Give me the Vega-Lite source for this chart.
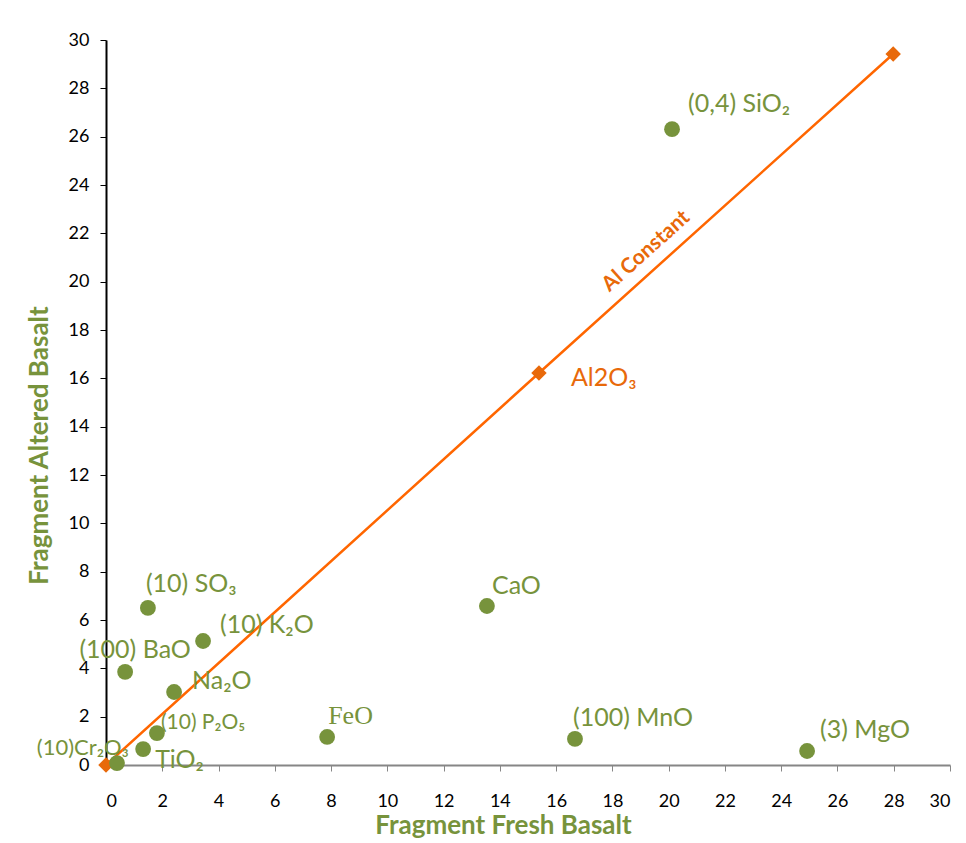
{
  "$schema": "https://vega.github.io/schema/vega-lite/v6.json",
  "autosize": {"type": "none"},
  "width": 844,
  "height": 725,
  "padding": {"left": 106, "top": 40, "right": 16, "bottom": 78},
  "background": "white",
  "config": {
    "view": {"stroke": null},
    "text": {"font": "Lato", "fontSize": 25, "color": "#77933C", "baseline": "middle", "align": "left"}
  },
  "datasets": {
    "oxides": [
      {"name": "SiO2", "label": "(0,4) SiO₂", "fresh": 20.12, "altered": 26.31},
      {"name": "CaO", "label": "CaO", "fresh": 13.54, "altered": 6.58},
      {"name": "SO3", "label": "(10) SO₃", "fresh": 1.49, "altered": 6.5},
      {"name": "K2O", "label": "(10) K₂O", "fresh": 3.45, "altered": 5.13},
      {"name": "BaO", "label": "(100) BaO", "fresh": 0.68, "altered": 3.85},
      {"name": "Na2O", "label": "Na₂O", "fresh": 2.42, "altered": 3.02},
      {"name": "P2O5", "label": "(10) P₂O₅", "fresh": 1.81, "altered": 1.32},
      {"name": "TiO2", "label": "TiO₂", "fresh": 1.32, "altered": 0.66},
      {"name": "Cr2O3", "label": "(10)Cr₂O₃", "fresh": 0.39, "altered": 0.08},
      {"name": "FeO", "label": "FeO", "fresh": 7.86, "altered": 1.16},
      {"name": "MnO", "label": "(100) MnO", "fresh": 16.67, "altered": 1.08},
      {"name": "MgO", "label": "(3) MgO", "fresh": 24.92, "altered": 0.58}
    ],
    "al": [
      {"name": "origin", "label": "", "fresh": 0, "altered": 0},
      {"name": "Al2O3", "label": "Al2O₃", "fresh": 15.39, "altered": 16.22},
      {"name": "end", "label": "", "fresh": 27.98, "altered": 29.42}
    ],
    "note": [
      {"label": "Al Constant", "fresh": 19.2, "altered": 21.25}
    ]
  },
  "encoding": {
    "x": {
      "field": "fresh", "type": "quantitative",
      "scale": {"domain": [0, 30], "nice": false, "zero": false},
      "axis": {
        "title": "Fragment Fresh Basalt",
        "values": [0,2,4,6,8,10,12,14,16,18,20,22,24,26,28,30],
        "grid": false,
        "domainColor": "#868686", "domainWidth": 2,
        "tickColor": "#868686", "tickSize": 6, "tickWidth": 1,
        "labelFont": "Lato", "labelFontSize": 18, "labelColor": "#000000", "labelPadding": 21,
        "titleFont": "Lato", "titleFontSize": 26, "titleFontWeight": "bold", "titleColor": "#77933C", "titlePadding": 2,
        "titleX": 397, "titleAlign": "center", "titleAnchor": "start"
      }
    },
    "y": {
      "field": "altered", "type": "quantitative",
      "scale": {"domain": [0, 30], "nice": false, "zero": false},
      "axis": {
        "title": "Fragment Altered Basalt",
        "values": [0,2,4,6,8,10,12,14,16,18,20,22,24,26,28,30],
        "grid": false,
        "domainColor": "#000000", "domainWidth": 2,
        "tickColor": "#000000", "tickSize": 6, "tickWidth": 1,
        "labelFont": "Lato", "labelFontSize": 18, "labelColor": "#000000", "labelPadding": 11,
        "titleFont": "Lato", "titleFontSize": 26, "titleFontWeight": "bold", "titleColor": "#77933C", "titlePadding": 16,
        "titleY": 405, "titleAlign": "center", "titleAnchor": "start"
      }
    }
  },
  "layer": [
    {"data": {"name": "al"}, "mark": {"type": "line", "color": "#FF6600", "strokeWidth": 2.5}},
    {"data": {"name": "al"}, "mark": {"type": "point", "shape": "diamond", "filled": true, "color": "#E8690A", "size": 240, "opacity": 1}},
    {"data": {"name": "oxides"}, "mark": {"type": "circle", "color": "#77933C", "size": 250, "opacity": 1}},
    {"data": {"name": "al"}, "transform": [{"filter": "datum.name == 'Al2O3'"}], "mark": {"type": "text", "color": "#E8690A", "dx": 32, "dy": 5}, "encoding": {"text": {"field": "label"}}},
    {"data": {"name": "note"}, "mark": {"type": "text", "color": "#E8690A", "fontWeight": "bold", "fontSize": 21, "align": "center", "angle": -42}, "encoding": {"text": {"field": "label"}}},
    {"data": {"name": "oxides"}, "transform": [{"filter": "datum.name == 'SiO2'"}], "mark": {"type": "text", "dx": 16, "dy": -25}, "encoding": {"text": {"field": "label"}}},
    {"data": {"name": "oxides"}, "transform": [{"filter": "datum.name == 'CaO'"}], "mark": {"type": "text", "dx": 5, "dy": -20}, "encoding": {"text": {"field": "label"}}},
    {"data": {"name": "oxides"}, "transform": [{"filter": "datum.name == 'SO3'"}], "mark": {"type": "text", "dx": -2, "dy": -24}, "encoding": {"text": {"field": "label"}}},
    {"data": {"name": "oxides"}, "transform": [{"filter": "datum.name == 'K2O'"}], "mark": {"type": "text", "dx": 17, "dy": -16}, "encoding": {"text": {"field": "label"}}},
    {"data": {"name": "oxides"}, "transform": [{"filter": "datum.name == 'BaO'"}], "mark": {"type": "text", "align": "center", "dx": 10, "dy": -22}, "encoding": {"text": {"field": "label"}}},
    {"data": {"name": "oxides"}, "transform": [{"filter": "datum.name == 'Na2O'"}], "mark": {"type": "text", "dx": 18, "dy": -11}, "encoding": {"text": {"field": "label"}}},
    {"data": {"name": "oxides"}, "transform": [{"filter": "datum.name == 'P2O5'"}], "mark": {"type": "text", "fontSize": 21, "dx": 4, "dy": -10}, "encoding": {"text": {"field": "label"}}},
    {"data": {"name": "oxides"}, "transform": [{"filter": "datum.name == 'TiO2'"}], "mark": {"type": "text", "dx": 12, "dy": 11}, "encoding": {"text": {"field": "label"}}},
    {"data": {"name": "oxides"}, "transform": [{"filter": "datum.name == 'Cr2O3'"}], "mark": {"type": "text", "fontSize": 22, "align": "right", "dx": 12, "dy": -15}, "encoding": {"text": {"field": "label"}}},
    {"data": {"name": "oxides"}, "transform": [{"filter": "datum.name == 'FeO'"}], "mark": {"type": "text", "font": "Liberation Serif", "fontSize": 26, "dx": 1, "dy": -21}, "encoding": {"text": {"field": "label"}}},
    {"data": {"name": "oxides"}, "transform": [{"filter": "datum.name == 'MnO'"}], "mark": {"type": "text", "dx": -2, "dy": -21}, "encoding": {"text": {"field": "label"}}},
    {"data": {"name": "oxides"}, "transform": [{"filter": "datum.name == 'MgO'"}], "mark": {"type": "text", "dx": 13, "dy": -21}, "encoding": {"text": {"field": "label"}}}
  ]
}
